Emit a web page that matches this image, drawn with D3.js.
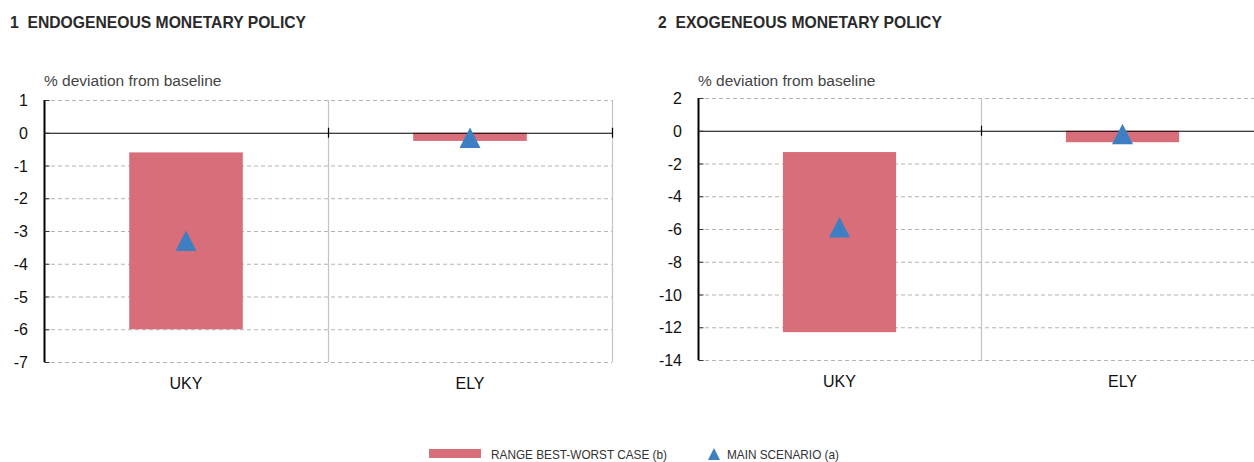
<!DOCTYPE html>
<html>
<head>
<meta charset="utf-8">
<script src="https://cdn.jsdelivr.net/npm/d3@7"></script>
<style>
  body { margin: 0; background: #fff; }
  svg { display: block; font-family: "Liberation Sans", Arial, sans-serif; }
  .title { white-space: pre; }
</style>
</head>
<body>
<svg id="canvas" width="1254" height="462"></svg>
<script>
const categories = ["UKY", "ELY"]

// panel 1 - endogeneous monetary policy
const endoWorst = [-6.0, -0.25]
const endoBest = [-0.6, 0]
const endoMain = [-3.3, -0.15]
const endoTicks = [1, 0, -1, -2, -3, -4, -5, -6, -7]

// panel 2 - exogeneous monetary policy
const exoWorst = [-12.3, -0.7]
const exoBest = [-1.3, 0]
const exoMain = [-5.9, -0.2]
const exoTicks = [2, 0, -2, -4, -6, -8, -10, -12, -14]

const barColor = "#d96e7b"
const triColor = "#3d7fc2"

let canvas = d3.select("#canvas")

function drawPanel(opts) {
  let g = canvas.append("g")

  let x = d3.scaleBand()
            .domain(categories)
            .range([opts.left, opts.right])
            .paddingInner(0.6)
            .paddingOuter(0.3)

  let y = d3.scaleLinear()
            .domain([d3.min(opts.ticks), d3.max(opts.ticks)])
            .range([opts.bottom, opts.top])

  g.append("text")
   .attr("class", "title")
   .attr("x", opts.titleX)
   .attr("y", 28)
   .style("font-size", "15.7px")
   .style("font-weight", "bold")
   .attr("fill", "#2a2a2a")
   .text(opts.title)

  g.append("text")
   .attr("x", opts.left)
   .attr("y", 86)
   .style("font-size", "15.5px")
   .attr("fill", "#444")
   .text("% deviation from baseline")

  // grid lines
  g.selectAll(".grid")
   .data(opts.ticks.filter(t => t != 0))
   .enter()
   .append("line")
   .attr("x1", opts.left)
   .attr("x2", opts.right)
   .attr("y1", d => y(d) + 0.5)
   .attr("y2", d => y(d) + 0.5)
   .attr("stroke", "#b3b3b3")
   .attr("stroke-dasharray", "4,3")

  // category separators
  let step = x.step()
  g.selectAll(".sep")
   .data([opts.left + step, opts.left + 2 * step])
   .enter()
   .append("line")
   .attr("x1", d => d + 0.5)
   .attr("x2", d => d + 0.5)
   .attr("y1", y.range()[1])
   .attr("y2", y.range()[0])
   .attr("stroke", "#c4c4c4")
   .attr("stroke-width", 1.2)

  // bars
  g.selectAll(".bar")
   .data(categories)
   .enter()
   .append("rect")
   .attr("x", d => x(d))
   .attr("width", x.bandwidth())
   .attr("y", (d, i) => y(opts.best[i]))
   .attr("height", (d, i) => y(opts.worst[i]) - y(opts.best[i]))
   .attr("fill", barColor)

  // zero line
  g.append("line")
   .attr("x1", opts.left)
   .attr("x2", opts.right)
   .attr("y1", y(0) + 0.5)
   .attr("y2", y(0) + 0.5)
   .attr("stroke", "#000")
   .attr("stroke-width", 1.2)

  g.selectAll(".ztick")
   .data([opts.left + step, opts.left + 2 * step])
   .enter()
   .append("line")
   .attr("x1", d => d + 0.5)
   .attr("x2", d => d + 0.5)
   .attr("y1", y(0) - 5)
   .attr("y2", y(0) + 5)
   .attr("stroke", "#000")
   .attr("stroke-width", 1.2)

  // y axis
  let axis = g.append("g")
              .attr("transform", "translate(" + (opts.left + 0.5) + ",0)")
              .call(d3.axisRight(y).tickValues(opts.ticks).tickSize(5).tickFormat(""))
  axis.select(".domain").attr("stroke", "#000").attr("stroke-width", 2).attr("d", "M0," + opts.top + "V" + opts.bottom)
  axis.selectAll(".tick line").attr("stroke", "#333")

  g.selectAll(".ylab")
   .data(opts.ticks)
   .enter()
   .append("text")
   .attr("x", opts.left - 16)
   .attr("y", d => y(d) + 6)
   .attr("text-anchor", "end")
   .style("font-size", "16px")
   .attr("fill", "#111")
   .text(d => d)

  // main scenario triangles
  g.selectAll(".tri")
   .data(categories)
   .enter()
   .append("path")
   .attr("d", "M0,-10.25L10.5,10.25L-10.5,10.25Z")
   .attr("transform", (d, i) => "translate(" + (x(d) + x.bandwidth() / 2) + "," + y(opts.main[i]) + ")")
   .attr("fill", triColor)

  g.selectAll(".cat")
   .data(categories)
   .enter()
   .append("text")
   .attr("x", d => x(d) + x.bandwidth() / 2)
   .attr("y", opts.bottom + 27)
   .attr("text-anchor", "middle")
   .style("font-size", "16px")
   .attr("fill", "#111")
   .text(d => d)
}

drawPanel({
  title: "1  ENDOGENEOUS MONETARY POLICY",
  titleX: 10,
  left: 44, right: 612, top: 100, bottom: 362,
  ticks: endoTicks,
  worst: endoWorst, best: endoBest, main: endoMain
})

drawPanel({
  title: "2  EXOGENEOUS MONETARY POLICY",
  titleX: 658,
  left: 698, right: 1264, top: 98, bottom: 360,
  ticks: exoTicks,
  worst: exoWorst, best: exoBest, main: exoMain
})

// legend
let legend = canvas.append("g")

legend.append("rect")
      .attr("x", 429)
      .attr("y", 449)
      .attr("width", 52)
      .attr("height", 9)
      .attr("fill", barColor)

legend.append("text")
      .attr("x", 491)
      .attr("y", 459)
      .attr("textLength", 176)
      .attr("lengthAdjust", "spacingAndGlyphs")
      .style("font-size", "13px")
      .attr("fill", "#333")
      .text("RANGE BEST-WORST CASE (b)")

legend.append("path")
      .attr("d", "M0,-6L6,6L-6,6Z")
      .attr("transform", "translate(714,454)")
      .attr("fill", triColor)

legend.append("text")
      .attr("x", 727)
      .attr("y", 459)
      .attr("textLength", 112)
      .attr("lengthAdjust", "spacingAndGlyphs")
      .style("font-size", "13px")
      .attr("fill", "#333")
      .text("MAIN SCENARIO (a)")
</script>
</body>
</html>
